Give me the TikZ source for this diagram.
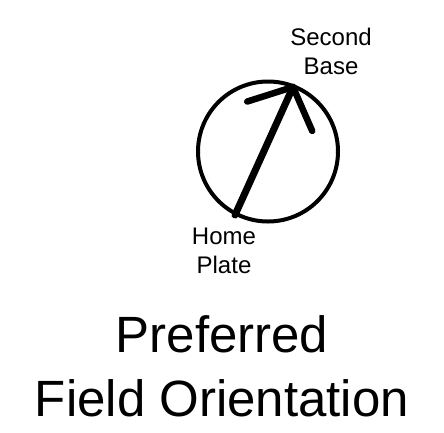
\documentclass[tikz,border=0pt]{standalone}
\usepackage{fontspec}
\setmainfont{Liberation Sans}
\usepackage{tikz}
\usetikzlibrary{calc}

\begin{document}
\begin{tikzpicture}[x=1pt, y=-1pt,
  label/.style={align=center, inner sep=0pt, font=\fontsize{24}{29}\selectfont},
  title/.style={align=center, inner sep=0pt, font=\fontsize{51}{64}\selectfont},
  barb/.style={line width=6.5pt, line cap=round}]
  \useasboundingbox (0,0) rectangle (444,432);
  \coordinate (center) at (268,151.5);
  \coordinate (home) at (235,215);
  \coordinate (second) at (293,87);
  \draw[line width=4pt] (center) circle[radius=70];
  \draw[line width=7pt, line cap=round] (home) -- (second);
  \draw[barb] (second) -- ($(second)!48pt!48:(home)$);
  \draw[barb] (second) -- ($(second)!48pt!-48:(home)$);
  \node[label] (secondlbl) at (331,51) {Second\\Base};
  \node[label] (homelbl) at (224,251) {Home\\Plate};
  \node[title] (caption) at (222,366) {Preferred\\Field Orientation};
\end{tikzpicture}
\end{document}
